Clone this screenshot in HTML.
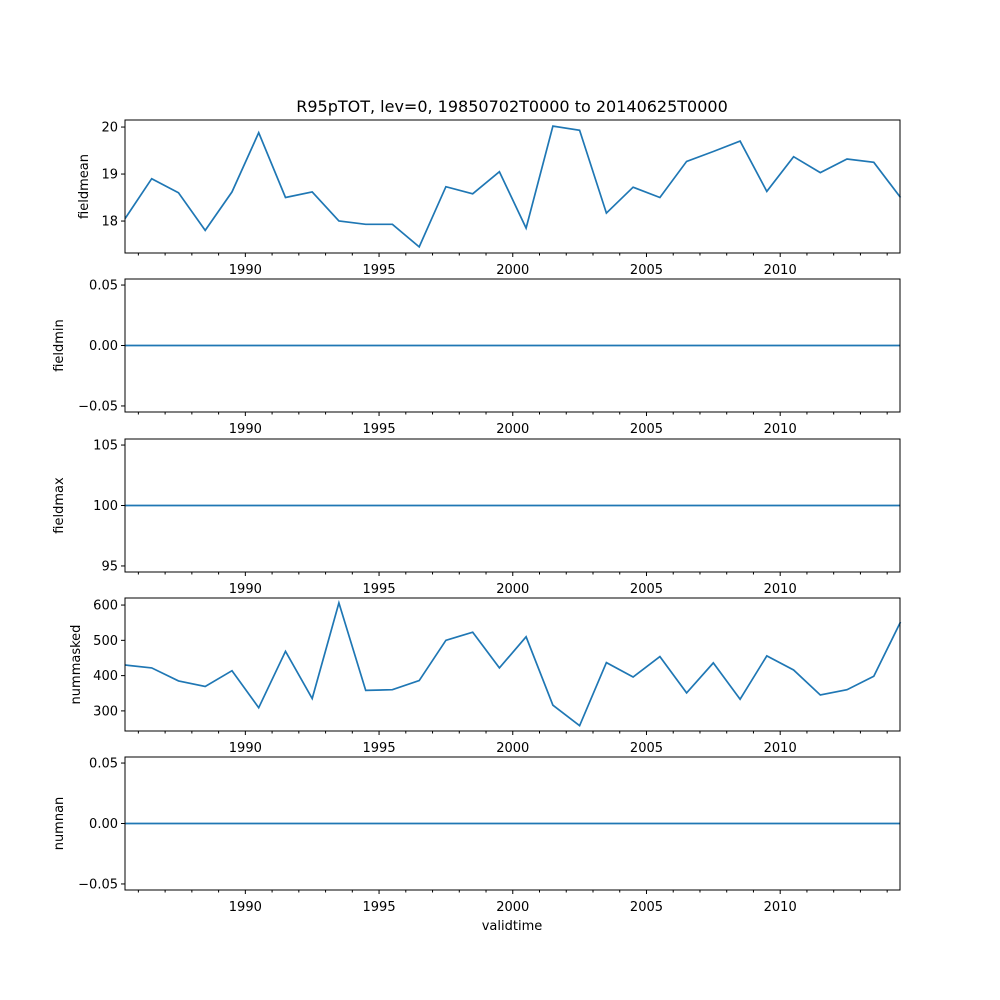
<!DOCTYPE html>
<html><head><meta charset="utf-8"><style>body{margin:0;background:#fff}svg{display:block;font-family:"DejaVu Sans","Liberation Sans",sans-serif}</style></head>
<body>
<svg id="fig" width="1000" height="1000" xmlns="http://www.w3.org/2000/svg">
<text x="512" y="112" font-size="16" text-anchor="middle">R95pTOT, lev=0, 19850702T0000 to 20140625T0000</text>
<text x="512" y="930" font-size="13" text-anchor="middle">validtime</text>
</svg>
<script>
const years = [1985,1986,1987,1988,1989,1990,1991,1992,1993,1994,1995,1996,1997,1998,1999,2000,2001,2002,2003,2004,2005,2006,2007,2008,2009,2010,2011,2012,2013,2014];
const fieldmean = [18.05,18.9,18.6,17.8,18.62,19.88,18.5,18.62,18.0,17.93,17.93,17.45,18.73,18.58,19.05,17.85,20.02,19.93,18.17,18.72,18.5,19.27,19.48,19.7,18.63,19.37,19.03,19.32,19.25,18.5];
const fieldmin = years.map(()=>0);
const fieldmax = years.map(()=>100);
const nummasked = [430,422,385,369,414,309,469,335,606,358,360,386,500,523,422,510,316,258,437,396,454,351,436,333,456,416,345,360,398,552];
const numnan = years.map(()=>0);
const xTickLabels = [1990,1995,2000,2005,2010];
const panels = [
 {name:'fieldmean', vals:fieldmean, ymin:17.32, ymax:20.15, ticks:[18,19,20], labels:['18','19','20'], top:120},
 {name:'fieldmin', vals:fieldmin, ymin:-0.055, ymax:0.055, ticks:[-0.05,0,0.05], labels:['−0.05','0.00','0.05'], top:279},
 {name:'fieldmax', vals:fieldmax, ymin:94.5, ymax:105.5, ticks:[95,100,105], labels:['95','100','105'], top:439},
 {name:'nummasked', vals:nummasked, ymin:243, ymax:620, ticks:[300,400,500,600], labels:['300','400','500','600'], top:598},
 {name:'numnan', vals:numnan, ymin:-0.055, ymax:0.055, ticks:[-0.05,0,0.05], labels:['−0.05','0.00','0.05'], top:757}
];
const NS='http://www.w3.org/2000/svg', svg=document.getElementById('fig');
const L=125,R=900,H=133,X0=1985.5,X1=2014.48;
const xs=v=>L+(v-X0)/(X1-X0)*(R-L);
function mk(t,a,p){const e=document.createElementNS(NS,t);for(const k in a)e.setAttribute(k,a[k]);(p||svg).appendChild(e);return e;}
panels.forEach(p=>{
 const g=mk('g',{});
 
 
 const ys=v=>p.top+H-(v-p.ymin)/(p.ymax-p.ymin)*H;
 const pts=years.map((y,i)=>xs(y+0.5).toFixed(1)+','+ys(p.vals[i]).toFixed(1)).join(' ');
 const line=mk('polyline',{points:pts,fill:'none',stroke:'#1f77b4','stroke-width':1.7},g);
 
 
 const fr=mk('rect',{x:L,y:p.top,width:R-L,height:H,fill:'none',stroke:'#000','stroke-width':1},g);
 
 
 p.ticks.forEach((t,i)=>{
  const y=ys(t);
  mk('line',{x1:L-4,x2:L,y1:y,y2:y,stroke:'#000'},g);
  const tx=mk('text',{x:L-7,y:y+4.5,'font-size':13,'text-anchor':'end'},g);
  tx.textContent=p.labels[i];
  
  
 });
 for(let yr=1986;yr<=2014;yr++){
  const x=xs(yr);const major=yr%5==0;
  mk('line',{x1:x,x2:x,y1:p.top+H,y2:p.top+H+(major?4:2.5),stroke:'#000'},g);
 }
 xTickLabels.forEach(yr=>{
  const tx=mk('text',{x:xs(yr),y:p.top+H+21,'font-size':13,'text-anchor':'middle'},g);
  tx.textContent=yr;
  
  
 });
 const cy=p.top+H/2, lx=p.name=='fieldmean'?88:(p.name=='nummasked'?80:63);
 const yl=mk('text',{x:lx,y:cy,'font-size':13,'text-anchor':'middle',transform:`rotate(-90 ${lx} ${cy})`},g);
 yl.textContent=p.name;
 
 
});
</script>
</body></html>
